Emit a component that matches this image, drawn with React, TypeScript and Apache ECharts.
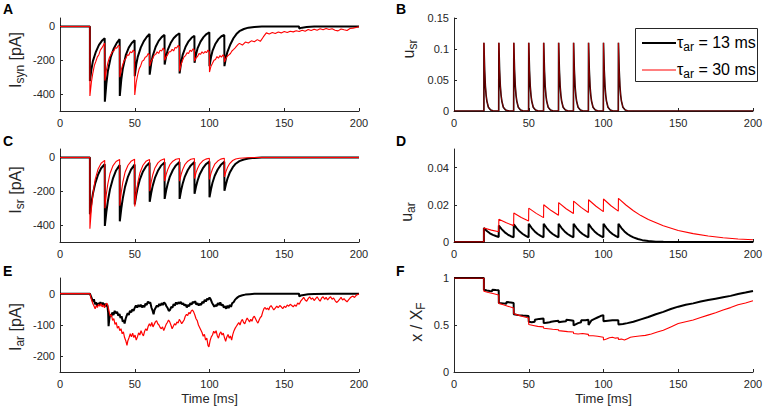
import React, { useEffect, useRef } from 'react';
import * as echarts from 'echarts';

const FONT = '"Liberation Sans", Arial, Helvetica, sans-serif';
const AX = '#262626';
const BLACK = '#000000';
const RED = '#ff0000';

type P = [number, number];

// ---------- Panel A: I_syn [pA] ----------
const aBlack: P[] = [
  [0, 0], [20, 0], [20, -323], [21, -255], [22, -205], [24, -150], [26, -110], [28, -85], [29.9, -70],
  [30, -445], [31, -340], [32, -265], [34, -180], [36, -130], [38, -97], [39.9, -75],
  [40, -411], [41, -315], [42, -250], [44, -170], [46, -125], [48, -98], [49.9, -82],
  [50, -294], [51, -225], [52, -180], [54, -125], [56, -88], [58, -62], [59.9, -45],
  [60, -285], [61, -220], [62, -175], [64, -120], [66, -85], [68, -63], [69.9, -50],
  [70, -225], [71, -175], [72, -140], [74, -98], [76, -70], [78, -52], [79.9, -40],
  [80, -278], [81, -215], [82, -170], [84, -120], [86, -88], [88, -67], [89.9, -55],
  [90, -215], [91, -165], [92, -130], [94, -90], [96, -63], [98, -45], [99.9, -35],
  [100, -235], [101, -182], [102, -145], [104, -102], [106, -75], [108, -58], [109.9, -50],
  [110, -235], [111, -185], [112, -150], [114, -105], [116, -70], [118, -45], [120, -28], [123, -15],
  [126, -7], [130, -3], [135, -1], [159.9, 0], [160, -12], [162, -7], [165, -3], [170, -1], [180, 0], [200, 0],
];
const aRed: P[] = [
  [0, 0], [20, 0], [20, -411], [21, -330], [22, -274], [23, -230], [24, -206], [25, -180], [26, -167], [27, -140], [28, -127], [29, -112], [29.9, -98],
  [30, -320], [31, -260], [32, -216], [33, -185], [34, -167], [35, -150], [36, -145], [37, -126], [38, -128], [39, -112], [39.9, -118],
  [40, -300], [41, -255], [42, -225], [43, -200], [44, -190], [45, -168], [46, -170], [47, -150], [48, -155], [49, -140], [49.9, -150],
  [50, -405], [51, -330], [52, -285], [53, -250], [54, -232], [55, -205], [56, -200], [57, -182], [58, -178], [59, -160], [59.9, -168],
  [60, -235], [61, -205], [62, -190], [63, -170], [64, -165], [65, -150], [66, -160], [67, -140], [68, -145], [69, -128], [69.9, -140],
  [70, -200], [71, -180], [72, -168], [73, -150], [74, -150], [75, -135], [76, -145], [77, -125], [78, -128], [79, -112], [79.9, -120],
  [80, -265], [81, -225], [82, -200], [83, -180], [84, -172], [85, -155], [86, -160], [87, -140], [88, -148], [89, -132], [89.9, -140],
  [90, -205], [91, -185], [92, -178], [93, -160], [94, -165], [95, -150], [96, -160], [97, -148], [98, -155], [99, -140], [99.9, -150],
  [100, -270], [101, -235], [102, -218], [103, -200], [104, -195], [105, -178], [106, -188], [107, -172], [108, -182], [109, -168], [109.9, -178],
  [110, -210], [111, -190], [112, -175], [113, -168], [114, -160], [115, -145], [116, -137], [117, -128], [118, -118], [119, -108],
  [120, -100], [122, -110], [124, -92], [126, -98], [128, -85], [130, -90], [132, -78], [134, -88], [136, -62], [138, -38],
  [140, -45], [142, -36], [144, -42], [146, -33], [148, -38], [150, -30], [152, -36], [154, -28], [156, -32], [158, -25],
  [160, -30], [162, -22], [164, -28], [166, -18], [168, -24], [170, -16], [172, -22], [174, -14], [176, -20], [178, -12],
  [180, -18], [182, -14], [184, -22], [186, -26], [188, -15], [190, -20], [192, -24], [194, -12], [196, -10], [198, -6], [200, -2],
];

// ---------- Panel B: u_sr ----------
const uSrSpikeTimes = [20, 30, 40, 50, 60, 70, 80, 90, 100, 110];
const uSrDecayDt = [0, 0.5, 1, 1.5, 2, 3, 4.5, 6];
const uSrDecayVal = [0.11, 0.066, 0.04, 0.025, 0.016, 0.006, 0.0015, 0.0003];

// ---------- Panel C: I_sr [pA] ----------
const cBlack: P[] = [
  [0, 0], [20, 0], [20, -336], [21, -269], [22, -215], [23.5, -155], [25.5, -101], [27.5, -64], [29.9, -40],
  [30, -405], [31, -324], [32, -259], [33.5, -186], [35.5, -122], [37.5, -77], [39.9, -45],
  [40, -378], [41, -302], [42, -242], [43.5, -174], [45.5, -113], [47.5, -72], [49.9, -42],
  [50, -278], [51, -222], [52, -178], [53.5, -128], [55.5, -83], [57.5, -53], [59.9, -31],
  [60, -262], [61, -210], [62, -168], [63.5, -121], [65.5, -79], [67.5, -50], [69.9, -29],
  [70, -245], [71, -196], [72, -157], [73.5, -113], [75.5, -74], [77.5, -47], [79.9, -27],
  [80, -245], [81, -196], [82, -157], [83.5, -113], [85.5, -74], [87.5, -47], [89.9, -27],
  [90, -215], [91, -172], [92, -138], [93.5, -99], [95.5, -65], [97.5, -41], [99.9, -24],
  [100, -235], [101, -188], [102, -150], [103.5, -108], [105.5, -71], [107.5, -45], [109.9, -26],
  [110, -197], [111, -158], [112, -126], [113.5, -91], [115.5, -59], [117.5, -37], [120, -22], [123, -12],
  [126, -6], [130, -2.5], [135, -0.5], [140, 0], [200, 0],
];
const cRed: P[] = [
  [0, 0], [20, 0], [20, -422], [21, -304], [22, -219], [23.5, -131], [25.5, -68], [27.5, -34], [29.9, -17],
  [30, -300], [31, -216], [32, -156], [33.5, -93], [35.5, -48], [37.5, -24], [39.9, -12],
  [40, -285], [41, -205], [42, -148], [43.5, -88], [45.5, -46], [47.5, -23], [49.9, -11],
  [50, -290], [51, -209], [52, -151], [53.5, -90], [55.5, -46], [57.5, -23], [59.9, -12],
  [60, -200], [61, -144], [62, -104], [63.5, -62], [65.5, -32], [67.5, -16], [69.9, -8],
  [70, -140], [71, -101], [72, -73], [73.5, -43], [75.5, -22], [77.5, -11], [79.9, -6],
  [80, -140], [81, -101], [82, -73], [83.5, -43], [85.5, -22], [87.5, -11], [89.9, -6],
  [90, -125], [91, -90], [92, -65], [93.5, -39], [95.5, -20], [97.5, -10], [99.9, -5],
  [100, -130], [101, -94], [102, -68], [103.5, -40], [105.5, -21], [107.5, -10], [109.9, -5],
  [110, -115], [111, -83], [112, -60], [113.5, -36], [115.5, -18], [117.5, -9], [120, -5], [125, -1.5], [130, 0], [200, 0],
];

// ---------- Panel D: u_ar ----------
const dBlack: P[] = [
  [0, 0], [20, 0], [20, 0.0075], [22, 0.0059], [24, 0.0047], [26, 0.0038], [28, 0.0032], [29.9, 0.0027],
  [30, 0.0088], [32, 0.0068], [34, 0.0052], [36, 0.004], [38, 0.0031], [39.9, 0.0025],
  [40, 0.0095], [42, 0.0073], [44, 0.0056], [46, 0.0043], [48, 0.0033], [49.9, 0.0025],
  [50, 0.0098], [52, 0.0075], [54, 0.0057], [56, 0.0043], [58, 0.0033], [59.9, 0.0025],
  [60, 0.0098], [62, 0.0075], [64, 0.0057], [66, 0.0043], [68, 0.0033], [69.9, 0.0025],
  [70, 0.0098], [72, 0.0075], [74, 0.0057], [76, 0.0043], [78, 0.0033], [79.9, 0.0025],
  [80, 0.0098], [82, 0.0075], [84, 0.0057], [86, 0.0043], [88, 0.0033], [89.9, 0.0025],
  [90, 0.0098], [92, 0.0075], [94, 0.0057], [96, 0.0043], [98, 0.0033], [99.9, 0.0025],
  [100, 0.0098], [102, 0.0075], [104, 0.0057], [106, 0.0043], [108, 0.0033], [109.9, 0.0025],
  [110, 0.0098], [112, 0.0075], [114, 0.0057], [116, 0.0043], [118, 0.0033], [120, 0.0025], [123, 0.0016],
  [126, 0.001], [130, 0.0005], [135, 0.0002], [140, 0.0001], [150, 0], [200, 0],
];
const dRed: P[] = [
  [0, 0], [20, 0], [20, 0.0075], [25, 0.0064], [29.9, 0.0055],
  [30, 0.0122], [35, 0.0103], [39.9, 0.0088],
  [40, 0.0156], [45, 0.0132], [49.9, 0.0113],
  [50, 0.0182], [55, 0.0154], [59.9, 0.0131],
  [60, 0.02], [65, 0.0169], [69.9, 0.0144],
  [70, 0.0212], [75, 0.0179], [79.9, 0.0153],
  [80, 0.022], [85, 0.0186], [89.9, 0.0159],
  [90, 0.0227], [95, 0.0192], [99.9, 0.0163],
  [100, 0.0231], [105, 0.0195], [109.9, 0.0166],
  [110, 0.0235], [115, 0.0199], [120, 0.0168], [125, 0.0142], [130, 0.0121], [140, 0.0087], [150, 0.0062],
  [160, 0.0045], [170, 0.0032], [180, 0.0023], [190, 0.0016], [200, 0.0012],
];

// ---------- Panel E: I_ar [pA] ----------
const eBlack: P[] = [
  [0, 0], [20, 0], [21, -12], [22, -25], [22.7, -18], [23.4, -34], [24, -28], [24.8, -38], [25.5, -30], [26.3, -36],
  [27, -27], [27.8, -35], [28.6, -29], [29.4, -38], [30, -32], [30.8, -40], [31.6, -35], [32.2, -60], [32.5, -104],
  [33, -80], [33.6, -66], [34.3, -72], [35, -60], [35.8, -68], [36.6, -55], [37.4, -63], [38.2, -58], [39, -70],
  [39.8, -65], [40.5, -78], [41.2, -72], [42, -90], [42.6, -84], [43.2, -95], [43.9, -80], [44.6, -70], [45.3, -62],
  [46, -68], [46.8, -55], [47.6, -60], [48.4, -50], [49.2, -55], [50, -45], [50.8, -38], [51.6, -44], [52.4, -36],
  [53.2, -42], [54, -35], [54.8, -44], [55.6, -38], [56.4, -43], [57.2, -32], [58, -36], [58.8, -25], [59.6, -30],
  [60.4, -28], [61.2, -45], [62, -55], [62.6, -66], [63.2, -52], [64, -45], [64.8, -38], [65.6, -42], [66.4, -33],
  [67.2, -38], [68, -30], [68.8, -36], [69.6, -28], [70.4, -32], [71.2, -40], [72, -46], [72.8, -55], [73.6, -52],
  [74.4, -42], [75.2, -45], [76, -33], [76.8, -38], [77.6, -28], [78.4, -34], [79.2, -27], [80, -32], [80.8, -26],
  [81.6, -34], [82.4, -30], [83.2, -38], [84, -34], [84.8, -44], [85.6, -36], [86.4, -40], [87.2, -30], [88, -35],
  [88.8, -26], [89.6, -30], [90.4, -24], [91.2, -35], [92, -30], [92.8, -38], [93.6, -32], [94.4, -36], [95.2, -26],
  [96, -30], [96.8, -20], [97.6, -25], [98.4, -16], [99.2, -20], [100, -12], [100.8, -18], [101.6, -28], [102.4, -35],
  [103.2, -42], [104, -36], [104.8, -40], [105.6, -30], [106.4, -36], [107.2, -28], [108, -38], [108.8, -34],
  [109.6, -45], [110.4, -40], [111.2, -48], [112, -38], [112.8, -46], [113.6, -36], [114.4, -42], [115.2, -30],
  [116, -28], [117, -20], [118, -15], [119, -11], [120, -8], [122, -5], [124, -3], [127, -1.5], [130, -0.5], [135, 0],
  [159.9, 0], [160, -9], [161, -6], [163, -4], [166, -2], [170, -1], [180, 0], [200, 0],
];
const eRed: P[] = [
  [0, 0], [20, 0], [21, -18], [22, -32], [22.8, -40], [23.5, -48], [24.2, -38], [25, -44], [25.8, -34], [26.6, -40],
  [27.4, -32], [28.2, -42], [29, -36], [29.8, -45], [30.6, -34], [31.4, -30], [32.2, -42], [33, -60], [33.6, -72],
  [34.4, -68], [35.2, -85], [36, -80], [36.8, -98], [37.6, -92], [38.4, -110], [39.2, -104], [40, -118], [40.8, -112],
  [41.6, -128], [42.4, -122], [43.2, -140], [44, -150], [44.8, -165], [45.4, -150], [46.2, -140], [47, -128],
  [47.8, -138], [48.6, -126], [49.4, -140], [50.2, -132], [51, -148], [51.8, -138], [52.6, -125], [53.4, -132],
  [54.2, -118], [55, -128], [55.8, -135], [56.6, -120], [57.4, -112], [58.2, -118], [59, -104], [59.8, -96],
  [60.6, -104], [61.4, -92], [62.2, -106], [63, -98], [63.8, -90], [64.6, -86], [65.4, -96], [66.2, -100], [67, -108],
  [67.8, -112], [68.6, -106], [69.4, -118], [70.2, -108], [71, -98], [71.8, -92], [72.6, -84], [73.4, -90],
  [74.2, -100], [75, -112], [75.8, -104], [76.6, -96], [77.4, -100], [78.2, -90], [79, -94], [79.8, -82], [80.6, -88],
  [81.4, -96], [82.2, -90], [83, -84], [83.8, -72], [84.6, -66], [85.4, -70], [86.2, -60], [87, -64], [87.8, -55],
  [88.6, -52], [89.4, -58], [90.2, -68], [91, -80], [91.8, -86], [92.6, -100], [93.4, -108], [94.2, -116], [95, -124],
  [95.8, -136], [96.6, -130], [97.4, -148], [98.2, -142], [99, -165], [99.6, -170], [100.4, -150], [101.2, -138],
  [102, -132], [102.8, -120], [103.6, -126], [104.4, -118], [105.2, -134], [106, -142], [106.8, -128], [107.6, -122],
  [108.4, -132], [109.2, -126], [110, -140], [110.8, -152], [111.6, -138], [112.4, -130], [113.2, -142], [114, -135],
  [114.8, -148], [115.6, -130], [116.4, -118], [117.2, -110], [118, -104], [118.8, -98], [119.6, -92], [120.4, -100],
  [121.2, -88], [122, -82], [122.8, -92], [123.6, -96], [124.4, -86], [125.2, -78], [126, -84], [126.8, -90],
  [127.6, -82], [128.4, -88], [129.2, -76], [130, -72], [130.8, -80], [131.6, -88], [132.4, -94], [133.2, -84],
  [134, -76], [134.8, -72], [135.6, -58], [136.4, -48], [137.2, -44], [138, -50], [138.8, -46], [139.6, -52],
  [140.4, -42], [141.2, -38], [142, -44], [143, -52], [144, -46], [145, -40], [146, -45], [147, -38], [148, -42],
  [149, -48], [150, -40], [151, -44], [152, -36], [153, -40], [154, -34], [155, -38], [156, -42], [157, -36],
  [158, -40], [159, -30], [160, -34], [161, -24], [162, -18], [163, -12], [164, -20], [165, -24], [166, -16],
  [167, -10], [168, -18], [169, -14], [170, -22], [171, -16], [172, -10], [173, -18], [174, -24], [175, -14],
  [176, -10], [177, -18], [178, -12], [179, -20], [180, -14], [181, -10], [182, -18], [183, -14], [184, -22],
  [185, -28], [186, -24], [187, -18], [188, -12], [189, -20], [190, -16], [191, -22], [192, -26], [193, -20],
  [194, -14], [195, -10], [196, -8], [197, -12], [198, -6], [199, -3], [200, -1],
];

// ---------- Panel F: x / X_F ----------
const fBlack: P[] = [
  [0, 1], [20, 1], [20, 0.875], [22, 0.868], [24, 0.862], [25.5, 0.86], [25.6, 0.875], [28, 0.872], [29.9, 0.87],
  [30, 0.735], [33, 0.73], [35, 0.725], [35.1, 0.745], [38, 0.74], [39.9, 0.735],
  [40, 0.615], [43, 0.605], [46, 0.6], [49.9, 0.595],
  [50, 0.535], [52, 0.53], [54, 0.535], [54.1, 0.555], [57, 0.565], [59.9, 0.57],
  [60, 0.52], [62, 0.525], [64, 0.53], [65, 0.535], [67, 0.54], [69.9, 0.545],
  [70, 0.53], [72, 0.535], [75, 0.54], [75.1, 0.555], [78, 0.55], [79.9, 0.545],
  [80, 0.495], [83, 0.52], [85, 0.53], [85.1, 0.55], [88, 0.55], [89.9, 0.555],
  [90, 0.5], [92, 0.55], [94, 0.565], [96, 0.58], [98, 0.595], [99.9, 0.605],
  [100, 0.54], [103, 0.545], [106, 0.55], [109.9, 0.55],
  [110, 0.505], [113, 0.51], [116, 0.52], [120, 0.535], [125, 0.56], [130, 0.585], [135, 0.615], [140, 0.64],
  [145, 0.67], [150, 0.695], [155, 0.715], [160, 0.73], [165, 0.75], [170, 0.765], [175, 0.78], [180, 0.795],
  [185, 0.81], [190, 0.83], [195, 0.845], [200, 0.862],
];
const fRed: P[] = [
  [0, 1], [20, 1], [20, 0.86], [23, 0.845], [26, 0.835], [29.9, 0.82],
  [30, 0.73], [33, 0.715], [36, 0.7], [39.9, 0.68],
  [40, 0.62], [43, 0.605], [46, 0.59], [49.9, 0.575],
  [50, 0.505], [53, 0.495], [56, 0.485], [59.9, 0.48],
  [60, 0.465], [63, 0.46], [66, 0.455], [69.9, 0.45],
  [70, 0.44], [73, 0.435], [76, 0.43], [79.9, 0.425],
  [80, 0.41], [83, 0.405], [86, 0.41], [89.9, 0.4],
  [90, 0.385], [93, 0.385], [96, 0.38], [99.9, 0.37],
  [100, 0.34], [102, 0.35], [104, 0.365], [106, 0.37], [108, 0.36], [109.9, 0.365],
  [110, 0.345], [112, 0.35], [114, 0.34], [116, 0.355], [118, 0.37], [120, 0.375], [124, 0.383], [128, 0.39],
  [132, 0.405], [136, 0.425], [140, 0.445], [145, 0.48], [150, 0.515], [155, 0.535], [160, 0.553], [165, 0.58],
  [170, 0.605], [175, 0.63], [180, 0.66], [185, 0.685], [190, 0.715], [195, 0.735], [200, 0.757],
];

// ---------- Axis ticks ----------
const iTicksAC = [-400, -200, 0];
const iTicksE = [-200, -100, 0];
const uSrTicks = [0, 0.05, 0.1, 0.15];
const uArTicks = [0, 0.02, 0.04];
const xFTicks = [0, 0.5, 1];
const legendLabels = ['13 ms', '30 ms'];

function spikeTrain(times: number[], dts: number[], vals: number[]): P[] {
  const out: P[] = [[0, 0]];
  for (const t of times) {
    out.push([t, 0]);
    dts.forEach((d, i) => out.push([t + d, vals[i]]));
    out.push([t + 9.9, 0]);
  }
  out.push([200, 0]);
  return out;
}

let measureCtx: CanvasRenderingContext2D | null = null;
function tw(s: string, size: number): number {
  if (!measureCtx) measureCtx = document.createElement('canvas').getContext('2d');
  measureCtx!.font = `${size}px ${FONT}`;
  return measureCtx!.measureText(s).width;
}

type Part = { t: string; sub?: boolean };
function subText(
  parts: Part[], x: number, y: number, rotate: boolean, center: boolean,
  main = 16, sub = 12, fill = AX, z = 50,
) {
  const widths = parts.map((p) => tw(p.t, p.sub ? sub : main));
  const total = widths.reduce((a, b) => a + b, 0);
  let cur = center ? -total / 2 : 0;
  const children = parts.map((p, i) => {
    const el = {
      type: 'text',
      x: cur,
      y: p.sub ? 5 : 0,
      z,
      style: {
        text: p.t,
        font: `${p.sub ? sub : main}px ${FONT}`,
        fill,
        textAlign: 'left',
        textVerticalAlign: 'middle',
        align: 'left',
        verticalAlign: 'middle',
      },
    };
    cur += widths[i];
    return el;
  });
  return { type: 'group', x, y, rotation: rotate ? Math.PI / 2 : 0, children, z };
}

function plainText(text: string, x: number, y: number, size: number, bold = false, align = 'center', valign = 'middle') {
  return {
    type: 'text',
    x,
    y,
    z: 50,
    style: {
      text,
      font: `${bold ? 'bold ' : ''}${size}px ${FONT}`,
      fill: bold ? '#000' : AX,
      textAlign: align,
      textVerticalAlign: valign,
      align,
      verticalAlign: valign,
    },
  };
}

const grids = [
  { left: 60, top: 18, width: 299, height: 93 },
  { left: 454, top: 18, width: 299, height: 93 },
  { left: 60, top: 149, width: 299, height: 93 },
  { left: 454, top: 149, width: 299, height: 93 },
  { left: 60, top: 278, width: 299, height: 94 },
  { left: 454, top: 278, width: 299, height: 94 },
];

function xAxis(i: number) {
  return {
    type: 'value',
    gridIndex: i,
    min: 0,
    max: 200,
    interval: 50,
    axisLine: { show: true, onZero: false, lineStyle: { color: AX, width: 1 } },
    axisTick: { show: true, inside: true, length: 3, lineStyle: { color: AX } },
    axisLabel: { show: true, color: AX, fontSize: 11, fontFamily: FONT, margin: 6, showMinLabel: true, showMaxLabel: true },
    splitLine: { show: false },
  };
}

function yAxis(i: number, min: number, max: number, ticks: number[]) {
  return {
    type: 'value',
    gridIndex: i,
    min,
    max,
    axisLine: { show: true, onZero: false, lineStyle: { color: AX, width: 1 } },
    axisTick: { show: true, inside: true, length: 3, lineStyle: { color: AX }, customValues: ticks },
    axisLabel: { show: true, color: AX, fontSize: 11, fontFamily: FONT, margin: 5, customValues: ticks },
    splitLine: { show: false },
  };
}

function line(data: P[], axis: number, color: string, width: number, opacity = 1) {
  return {
    type: 'line',
    xAxisIndex: axis,
    yAxisIndex: axis,
    data,
    showSymbol: false,
    symbol: 'none',
    silent: true,
    lineStyle: { color, width, opacity },
    itemStyle: { color },
  };
}

export default function App() {
  const ref = useRef<HTMLDivElement>(null);
  useEffect(() => {
    const chart = echarts.init(ref.current!, null, { renderer: 'svg' });
    const uSr = spikeTrain(uSrSpikeTimes, uSrDecayDt, uSrDecayVal);
    const graphic: any[] = [
      plainText('A', 3, 2, 14, true, 'left', 'top'),
      plainText('B', 396, 2, 14, true, 'left', 'top'),
      plainText('C', 3, 134, 14, true, 'left', 'top'),
      plainText('D', 396, 134, 14, true, 'left', 'top'),
      plainText('E', 3, 264, 14, true, 'left', 'top'),
      plainText('F', 396, 264, 14, true, 'left', 'top'),
      plainText('Time [ms]', 209.5, 398, 13),
      plainText('Time [ms]', 603.5, 398, 13),
      subText([{ t: 'I' }, { t: 'syn', sub: true }, { t: ' [pA]' }], 15, 60, true, true),
      subText([{ t: 'I' }, { t: 'sr', sub: true }, { t: ' [pA]' }], 15, 190, true, true),
      subText([{ t: 'I' }, { t: 'ar', sub: true }, { t: ' [pA]' }], 15, 327, true, true),
      subText([{ t: 'u' }, { t: 'sr', sub: true }], 408, 49, true, true),
      subText([{ t: 'u' }, { t: 'ar', sub: true }], 406, 212, true, true),
      subText([{ t: 'x / X' }, { t: 'F', sub: true }], 416, 322, true, true),
      {
        type: 'rect',
        z: 60,
        shape: { x: 635.5, y: 28.5, width: 122, height: 53 },
        style: { fill: '#ffffff', stroke: '#262626', lineWidth: 1 },
      },
      { type: 'line', z: 61, shape: { x1: 642, y1: 43, x2: 676, y2: 43 }, style: { stroke: BLACK, lineWidth: 2 } },
      { type: 'line', z: 61, shape: { x1: 642, y1: 70, x2: 676, y2: 70 }, style: { stroke: RED, lineWidth: 1 } },
      subText([{ t: 'τ' }, { t: 'ar', sub: true }, { t: ' = ' + legendLabels[0] }], 677, 42, false, false, 16, 12, '#000', 62),
      subText([{ t: 'τ' }, { t: 'ar', sub: true }, { t: ' = ' + legendLabels[1] }], 677, 69, false, false, 16, 12, '#000', 62),
    ];
    chart.setOption({
      animation: false,
      backgroundColor: '#ffffff',
      grid: grids,
      xAxis: [0, 1, 2, 3, 4, 5].map(xAxis),
      yAxis: [
        yAxis(0, -500, 50, iTicksAC),
        yAxis(1, 0, 0.15, uSrTicks),
        yAxis(2, -500, 50, iTicksAC),
        yAxis(3, 0, 0.05, uArTicks),
        yAxis(4, -250, 50, iTicksE),
        yAxis(5, 0, 1, xFTicks),
      ],
      series: [
        line(aBlack, 0, BLACK, 2),
        line(aRed, 0, RED, 1.1),
        line(uSr, 1, BLACK, 1.6),
        line(uSr, 1, RED, 1, 0.5),
        line(cBlack, 2, BLACK, 2),
        line(cRed, 2, RED, 1.1),
        line(dBlack, 3, BLACK, 2),
        line(dRed, 3, RED, 1.1),
        line(eBlack, 4, BLACK, 2),
        line(eRed, 4, RED, 1.2),
        line(fBlack, 5, BLACK, 2),
        line(fRed, 5, RED, 1.1),
      ],
      graphic,
    });
    return () => chart.dispose();
  }, []);
  return <div ref={ref} style={{ position: 'absolute', left: 0, top: 0, width: 767, height: 409 }} />;
}
